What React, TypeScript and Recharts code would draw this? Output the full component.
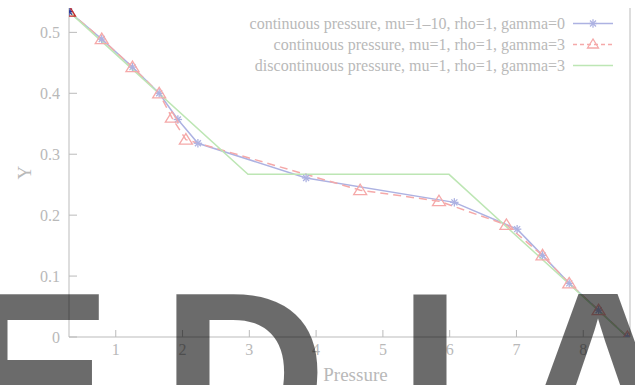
import React from 'react';
import { LineChart, Line, XAxis, YAxis, Label } from 'recharts';

// ---- data ----
const pressureMu = [0.3, 0.79, 1.25, 1.65, 1.93, 2.23, 3.85, 6.07, 7.01, 7.39, 7.79, 8.23, 8.66];
const yMu = [0.534, 0.489, 0.443, 0.4, 0.357, 0.318, 0.261, 0.221, 0.177, 0.134, 0.088, 0.044, 0];

const pressureGamma = [0.3, 0.79, 1.25, 1.65, 1.84, 2.05, 4.66, 5.84, 6.85, 7.39, 7.79, 8.23, 8.66];
const yGamma = [0.534, 0.489, 0.443, 0.4, 0.36, 0.324, 0.241, 0.223, 0.184, 0.134, 0.088, 0.044, 0];

const pressureDisc = [0.3, 2.98, 5.99, 8.66];
const yDisc = [0.534, 0.267, 0.267, 0];

const xTicks = [1, 2, 3, 4, 5, 6, 7, 8];
const yTicks = [0, 0.1, 0.2, 0.3, 0.4, 0.5];

const seriesNames = [
  'continuous pressure, mu=1\u201310, rho=1, gamma=0',
  'continuous pressure, mu=1, rho=1, gamma=3',
  'discontinuous pressure, mu=1, rho=1, gamma=3',
];
const xLabel = 'Pressure';
const yLabel = 'Y';
const watermarkLetters = ['E', 'D', 'I', 'A'];

const toPoints = (xs: number[], ys: number[]) => xs.map((x, i) => ({ x, y: ys[i] }));
const dataMu = toPoints(pressureMu, yMu);
const dataGamma = toPoints(pressureGamma, yGamma);
const dataDisc = toPoints(pressureDisc, yDisc);

// ---- styles ----
const BLUE = '#adb2e2';
const BLUE_DARK = '#2c3a9e';
const RED = '#f5a9a9';
const RED_DARK = '#c42a2a';
const GREEN = '#bde6b4';
const AXIS = '#bbbbbb';
const TEXT = '#b9b9b9';
const SERIF = '"Liberation Serif", "Times New Roman", serif';

const Asterisk = (props: any) => {
  const { cx, cy, index, stroke } = props;
  if (cx == null || cy == null) return null;
  const c = index === 0 ? BLUE_DARK : stroke || BLUE;
  const r = 4.2;
  const d = 3;
  return (
    <g key={`a${index}`} stroke={c} strokeWidth={1.3} fill="none">
      <line x1={cx - r} x2={cx + r} y1={cy} y2={cy} />
      <line x1={cx} x2={cx} y1={cy - r} y2={cy + r} />
      <line x1={cx - d} x2={cx + d} y1={cy - d} y2={cy + d} />
      <line x1={cx - d} x2={cx + d} y1={cy + d} y2={cy - d} />
    </g>
  );
};

const Triangle = (props: any) => {
  const { cx, cy, index, stroke, small } = props;
  if (cx == null || cy == null) return null;
  const c = index === 0 ? RED_DARK : stroke || RED;
  const w = small ? 5.5 : 6.5;
  const t = small ? 5 : 6;
  const b = small ? 4 : 4.5;
  return (
    <polygon
      key={`t${index}`}
      points={`${cx},${cy - t} ${cx - w},${cy + b} ${cx + w},${cy + b}`}
      fill="none"
      stroke={c}
      strokeWidth={1.3}
    />
  );
};

const YTick = (props: any) => {
  const { x, y, payload } = props;
  const v = payload.value;
  const s = v === 0 ? '0' : Number(v).toFixed(1);
  return (
    <g>
      <line x1={x} x2={x + 8} y1={y} y2={y} stroke={AXIS} />
      <text x={x - 9} y={y} dy="0.35em" textAnchor="end" fill={TEXT} fontSize={16} fontFamily={SERIF}>
        {s}
      </text>
    </g>
  );
};

const XTick = (props: any) => {
  const { x, y, payload } = props;
  return (
    <g>
      <line x1={x} x2={x} y1={y} y2={y - 7} stroke={AXIS} />
      <text x={x} y={y + 18} textAnchor="middle" fill={TEXT} fontSize={16} fontFamily={SERIF}>
        {String(payload.value)}
      </text>
    </g>
  );
};

const LegendBox = () => {
  const samples = [
    { color: BLUE, dash: undefined as string | undefined, marker: 'ast' },
    { color: RED, dash: '4 3', marker: 'tri' },
    { color: GREEN, dash: undefined, marker: 'none' },
  ];
  return (
    <div style={{ position: 'absolute', top: 13, right: 22, fontFamily: SERIF, fontSize: 16, color: TEXT }}>
      {seriesNames.map((name, i) => (
        <div key={name} style={{ display: 'flex', alignItems: 'center', justifyContent: 'flex-end', height: 21, whiteSpace: 'nowrap' }}>
          <span>{name}</span>
          <svg width={48} height={21} style={{ display: 'block' }}>
            <line x1={8} x2={48} y1={10.5} y2={10.5} stroke={samples[i].color} strokeWidth={1.5} strokeDasharray={samples[i].dash} />
            {samples[i].marker === 'ast' && <Asterisk cx={28} cy={10.5} index={1} stroke={BLUE} />}
            {samples[i].marker === 'tri' && <Triangle cx={28} cy={10} index={1} stroke={RED} small />}
          </svg>
        </div>
      ))}
    </div>
  );
};

const Watermark = () => {
  const positions = [-41, 161, 398, 515];
  return (
    <svg width={635} height={385} style={{ position: 'absolute', left: 0, top: 0, pointerEvents: 'none' }}>
      {watermarkLetters.map((ch, i) => (
        <text
          key={ch}
          x={positions[i]}
          y={453}
          fontSize={230}
          fontWeight="bold"
          fontFamily='"Liberation Sans", Arial, sans-serif'
          fill="#000"
          fillOpacity={0.58}
        >
          {ch}
        </text>
      ))}
    </svg>
  );
};

export default function App() {
  return (
    <div style={{ position: 'absolute', left: 0, top: 0, width: 635, height: 385, background: '#fff' }}>
      <LineChart width={635} height={385} margin={{ top: 8, right: 0, bottom: 0, left: 0 }}>
        <XAxis
          dataKey="x"
          type="number"
          domain={[0.3, 8.7]}
          ticks={xTicks}
          allowDataOverflow
          height={48}
          tickSize={0}
          tickMargin={0}
          tickLine={false}
          axisLine={{ stroke: AXIS }}
          tick={<XTick />}
          interval={0}
        >
          <Label
            value={xLabel}
            position="insideBottom"
            offset={4}
            dx={6}
            fill={TEXT}
            fontSize={19}
            fontFamily={SERIF}
          />
        </XAxis>
        <XAxis
          xAxisId="top"
          orientation="top"
          type="number"
          domain={[0.3, 8.7]}
          height={0}
          tick={false}
          tickLine={false}
          axisLine={{ stroke: '#222' }}
        />
        <YAxis
          type="number"
          domain={[0, 0.54]}
          ticks={yTicks}
          allowDataOverflow
          width={69}
          tickSize={0}
          tickMargin={0}
          tickLine={false}
          axisLine={{ stroke: AXIS }}
          tick={<YTick />}
          interval={0}
        >
          <Label
            content={(p: any) => {
              const vb = p.viewBox || { x: 0, y: 8, height: 329 };
              const cx = vb.x + 24;
              const cy = vb.y + vb.height / 2;
              return (
                <text
                  x={cx}
                  y={cy}
                  dy="0.35em"
                  textAnchor="middle"
                  transform={`rotate(-90, ${cx}, ${cy})`}
                  fill={TEXT}
                  fontSize={19}
                  fontFamily={SERIF}
                >
                  {yLabel}
                </text>
              );
            }}
          />
        </YAxis>
        <YAxis
          yAxisId="right"
          orientation="right"
          width={5}
          tick={false}
          tickLine={false}
          axisLine={{ stroke: AXIS }}
        />
        <Line
          data={dataMu}
          dataKey="y"
          name={seriesNames[0]}
          stroke={BLUE}
          strokeWidth={1.5}
          dot={<Asterisk />}
          isAnimationActive={false}
        />
        <Line
          data={dataGamma}
          dataKey="y"
          name={seriesNames[1]}
          stroke={RED}
          strokeWidth={1.5}
          strokeDasharray="8 5"
          dot={<Triangle />}
          isAnimationActive={false}
        />
        <Line
          data={dataDisc}
          dataKey="y"
          name={seriesNames[2]}
          stroke={GREEN}
          strokeWidth={1.5}
          dot={false}
          isAnimationActive={false}
        />
      </LineChart>
      <LegendBox />
      <Watermark />
    </div>
  );
}
